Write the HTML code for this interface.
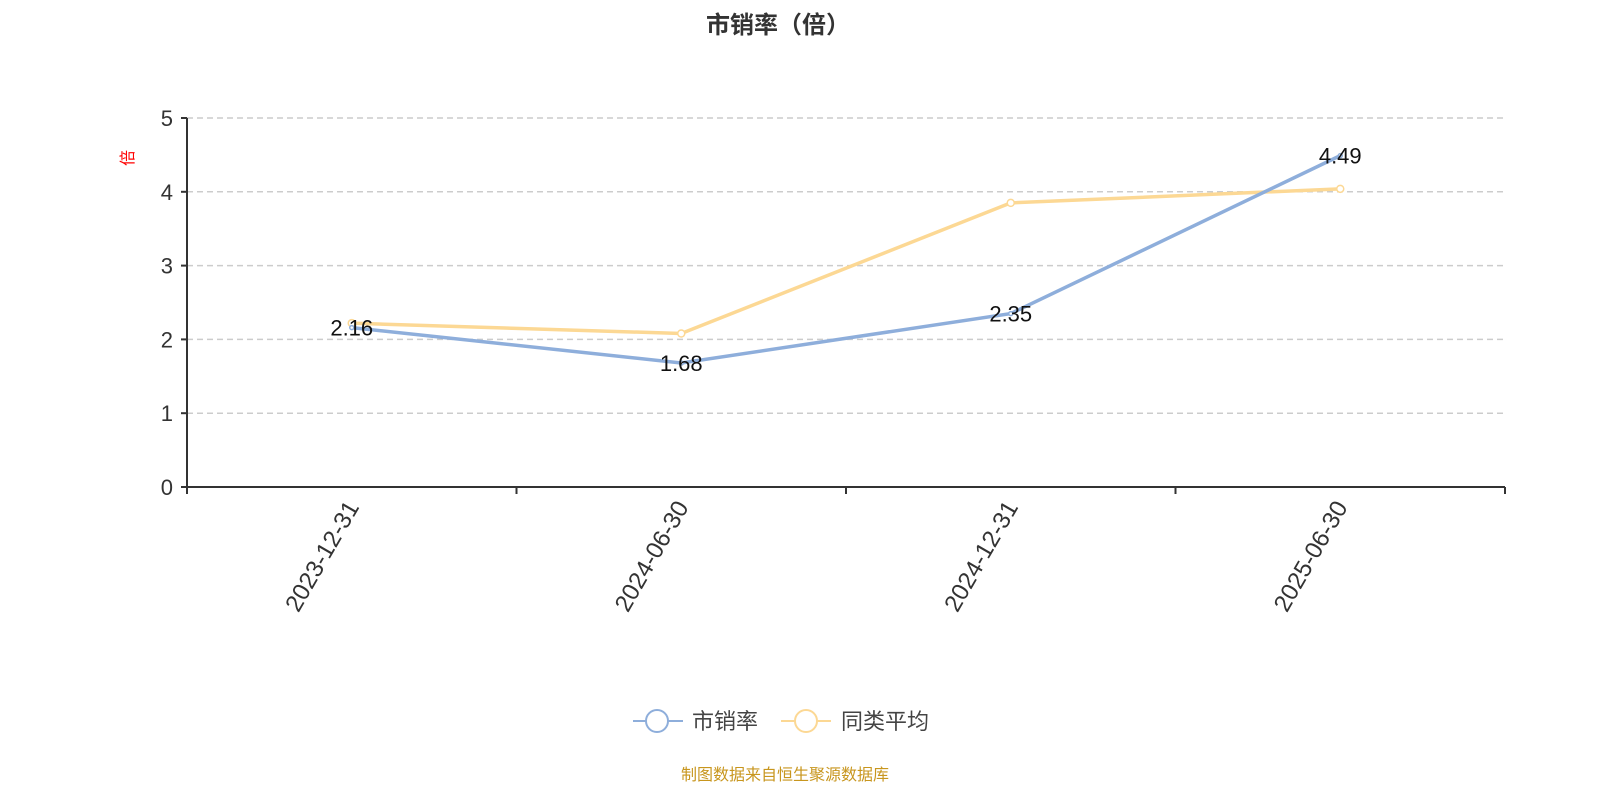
<!DOCTYPE html>
<html><head><meta charset="utf-8"><style>
body{margin:0;background:#fff;}
svg{display:block;font-family:"Liberation Sans","Noto Sans CJK SC",sans-serif;}
</style></head><body>
<svg id="chart" width="1600" height="800">
<text x="778" y="33" text-anchor="middle" font-size="24" font-weight="bold" fill="#333">市销率（倍）</text>
<text x="0" y="0" transform="translate(133,158) rotate(-90)" text-anchor="middle" font-size="16" fill="#f00">倍</text>
<g id="grid"></g><g id="axes"></g><g id="series"></g>
<g>
<g>
<line x1="633" y1="721" x2="683" y2="721" stroke="#8eaedb" stroke-width="2"/>
<circle cx="657" cy="721" r="11" fill="#fff" stroke="#8eaedb" stroke-width="2"/>
<text x="692" y="729" font-size="22" fill="#444">市销率</text></g>
<g>
<line x1="781" y1="721" x2="831" y2="721" stroke="#fcd894" stroke-width="2"/>
<circle cx="806" cy="721" r="11" fill="#fff" stroke="#fcd894" stroke-width="2"/>
<text x="841" y="729" font-size="22" fill="#444">同类平均</text></g>
</g>
<text x="785" y="780" text-anchor="middle" font-size="16" fill="#c8961e">制图数据来自恒生聚源数据库</text>
</svg>
<script>
const categories=["2023-12-31","2024-06-30","2024-12-31","2025-06-30"];
const psValues=[2.16,1.68,2.35,4.49];
const avgValues=[2.22,2.08,3.85,4.04];
const yTicks=[0,1,2,3,4,5];
const NS="http://www.w3.org/2000/svg";
const L=187,R=1505,T=118,B=487,yMax=5;
const bw=(R-L)/categories.length;
const x=i=>L+bw*(i+0.5);
const y=v=>B-(v/yMax)*(B-T);
function mk(tag,attrs,parent){const e=document.createElementNS(NS,tag);for(const k in attrs)e.setAttribute(k,attrs[k]);parent.appendChild(e);return e;}
const grid=document.getElementById('grid'),axes=document.getElementById('axes'),series=document.getElementById('series');
yTicks.forEach(t=>{
 if(t>0){const g=mk('line',{x1:L,x2:R,y1:y(t),y2:y(t),stroke:'#ccc','stroke-dasharray':'6,4','stroke-width':1.5},grid);
 
 }
 const tk=mk('line',{x1:L-6,x2:L,y1:y(t),y2:y(t),stroke:'#333','stroke-width':2},axes);
 
 
 const lb=mk('text',{x:L-14,y:y(t)+8,'text-anchor':'end','font-size':22,fill:'#333'},axes);
 lb.textContent=t;
 
 
});
const ya=mk('line',{x1:L,x2:L,y1:T,y2:B,stroke:'#333','stroke-width':2},axes);


const xa=mk('line',{x1:L,x2:R,y1:B,y2:B,stroke:'#333','stroke-width':2},axes);


for(let i=0;i<=categories.length;i++){
 const tk=mk('line',{x1:L+bw*i,x2:L+bw*i,y1:B,y2:B+7,stroke:'#333','stroke-width':2},axes);
 
 
}
categories.forEach((c,i)=>{
 const t=mk('text',{x:0,y:0,transform:`translate(${x(i)+8},${B+20}) rotate(-60)`,'text-anchor':'end','font-size':24,fill:'#333'},axes);
 t.textContent=c;
 
 
});
function drawSeries(vals,color,name,labels){
 const p=mk('polyline',{points:vals.map((v,i)=>x(i)+','+y(v)).join(' '),fill:'none',stroke:color,'stroke-width':3.5},series);
 
 
 vals.forEach((v,i)=>{
  const c=mk('circle',{cx:x(i),cy:y(v),r:labels?2:3.5,fill:'#fff',stroke:color,'stroke-width':1.5},series);
  
  
 });
}
drawSeries(avgValues,'#fcd894','avg',false);
drawSeries(psValues,'#8eaedb','ps',true);
psValues.forEach((v,i)=>{
 const t=mk('text',{x:x(i),y:y(v)+8,'text-anchor':'middle','font-size':22,fill:'#111'},series);
 t.textContent=v.toFixed(2);
 
 
});
</script>
</body></html>
